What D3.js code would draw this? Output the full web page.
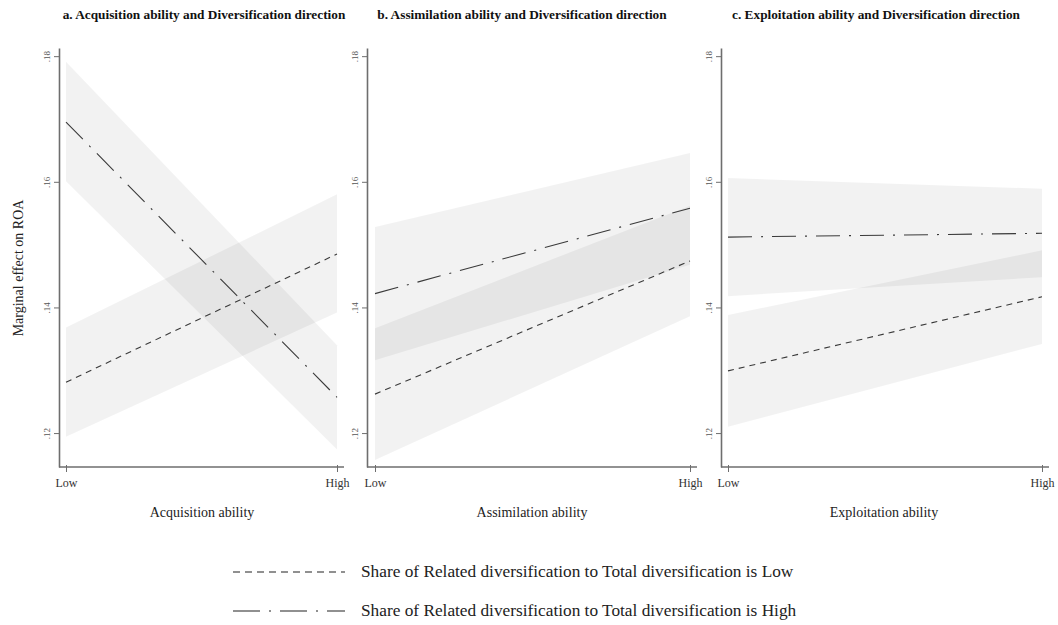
<!DOCTYPE html>
<html>
<head>
<meta charset="utf-8">
<script src="https://cdn.jsdelivr.net/npm/d3@7"></script>
<style>
  body { margin: 0; background: #fff; }
  svg { font-family: "Liberation Serif", "DejaVu Serif", serif; }
</style>
</head>
<body>
<svg id="chart" width="1058" height="625"></svg>
<script>
const levels = ["Low", "High"];
const yTicks = [0.12, 0.14, 0.16, 0.18];
const panelTitles = [
  "a. Acquisition ability and Diversification direction",
  "b. Assimilation ability and Diversification direction",
  "c. Exploitation ability and Diversification direction"
];
const xTitles = ["Acquisition ability", "Assimilation ability", "Exploitation ability"];
const seriesNames = [
  "Share of Related diversification to Total diversification is Low",
  "Share of Related diversification to Total diversification is High"
];

// predicted values at [Low, High] for each panel
const lowFit   = [[0.1281, 0.1485], [0.1262, 0.1474], [0.1299, 0.1417]];
const lowUpper = [[0.1368, 0.1580], [0.1367, 0.1562], [0.1388, 0.1491]];
const lowLower = [[0.1194, 0.1392], [0.1157, 0.1386], [0.1210, 0.1342]];
const highFit   = [[0.1695, 0.1257], [0.1422, 0.1558], [0.1512, 0.1518]];
const highUpper = [[0.1791, 0.1340], [0.1528, 0.1646], [0.1606, 0.1589]];
const highLower = [[0.1601, 0.1174], [0.1316, 0.1468], [0.1418, 0.1448]];

const svg = d3.select("#chart");

// pixel layout of each panel: y axis line, Low tick, High tick, end of x axis
const layout = [
  { axisX: 59, x0: 66, x1: 337, xEnd: 344, titleX: 204, xTitleX: 202 },
  { axisX: 367, x0: 375, x1: 690, xEnd: 697, titleX: 522, xTitleX: 532 },
  { axisX: 721, x0: 728, x1: 1042, xEnd: 1049, titleX: 876, xTitleX: 884 }
];
const yTop = 48, yBottom = 467;

const yScale = d3.scaleLinear().domain([0.1146, 0.1813]).range([yBottom, yTop]);

const dashLow = "6,5";
const dashHigh = "24,9,2,9";
const lineColor = "#3a3a3a";
const axisColor = "#6e6e6e";

layout.forEach((p, i) => {
  const g = svg.append("g");
  const xScale = d3.scaleLinear().domain([0, 1]).range([p.x0, p.x1]);

  const band = d3.area()
    .x((d, k) => xScale(k))
    .y0(d => yScale(d[0]))
    .y1(d => yScale(d[1]));

  const bands = [
    d3.zip(lowLower[i], lowUpper[i]),
    d3.zip(highLower[i], highUpper[i])
  ];
  g.selectAll(".band")
    .data(bands)
    .enter()
    .append("path")
    .attr("class", "band")
    .attr("d", band)
    .attr("fill", "#000")
    .attr("fill-opacity", 0.05);

  const line = d3.line()
    .x((d, k) => xScale(k))
    .y(d => yScale(d));

  g.append("path")
    .attr("d", line(lowFit[i]))
    .attr("fill", "none")
    .attr("stroke", lineColor)
    .attr("stroke-width", 1.1)
    .attr("stroke-dasharray", dashLow);

  g.append("path")
    .attr("d", line(highFit[i]))
    .attr("fill", "none")
    .attr("stroke", lineColor)
    .attr("stroke-width", 1.1)
    .attr("stroke-dasharray", dashHigh);

  // y axis
  const yAxis = d3.axisLeft(yScale)
    .tickValues(yTicks)
    .tickSize(5)
    .tickSizeOuter(0)
    .tickFormat(d => d3.format(".2f")(d).replace(/^0/, ""));

  const ya = g.append("g")
    .attr("transform", `translate(${p.axisX},0)`)
    .call(yAxis);
  ya.select(".domain").attr("stroke", axisColor).attr("stroke-width", 1.6);
  ya.selectAll(".tick line").attr("stroke", axisColor);
  ya.selectAll(".tick text")
    .attr("x", 0)
    .attr("dy", 0)
    .attr("transform", "translate(-9,0) rotate(-90)")
    .attr("text-anchor", "middle")
    .attr("fill", "#555")
    .style("font-size", "9px")
    .style("font-family", "Liberation Serif");

  // x axis
  const xAxis = d3.axisBottom(xScale)
    .tickValues([0, 1])
    .tickSize(5)
    .tickSizeOuter(0)
    .tickFormat((d, k) => levels[k]);

  const xa = g.append("g")
    .attr("transform", `translate(0,${yBottom})`)
    .call(xAxis);
  xa.select(".domain").remove();
  xa.append("line")
    .attr("x1", p.axisX)
    .attr("x2", p.xEnd)
    .attr("stroke", axisColor)
    .attr("stroke-width", 1.6);
  xa.selectAll(".tick line").attr("stroke", axisColor).attr("y1", -2);
  xa.selectAll(".tick text")
    .attr("y", 11)
    .attr("fill", "#333")
    .style("font-size", "12px")
    .style("font-family", "Liberation Serif");

  svg.append("text")
    .attr("x", p.titleX)
    .attr("y", 19)
    .attr("text-anchor", "middle")
    .attr("font-weight", "bold")
    .attr("font-size", 13.3)
    .attr("fill", "#111")
    .text(panelTitles[i]);

  svg.append("text")
    .attr("x", p.xTitleX)
    .attr("y", 517)
    .attr("text-anchor", "middle")
    .attr("font-size", 14)
    .attr("fill", "#222")
    .text(xTitles[i]);
});

svg.append("text")
  .attr("transform", "translate(23,268) rotate(-90)")
  .attr("text-anchor", "middle")
  .attr("font-size", 14)
  .attr("fill", "#222")
  .text("Marginal effect on ROA");

// legend
const legend = svg.append("g");
const legendRows = [
  { y: 572, dash: "7,5", name: seriesNames[0] },
  { y: 611, dash: "27,9,2,9", name: seriesNames[1] }
];
legendRows.forEach(r => {
  legend.append("line")
    .attr("x1", 233)
    .attr("x2", 345)
    .attr("y1", r.y)
    .attr("y2", r.y)
    .attr("stroke", "#222")
    .attr("stroke-width", 1.2)
    .attr("stroke-dasharray", r.dash);
  legend.append("text")
    .attr("x", 361)
    .attr("y", r.y + 5)
    .attr("font-size", 17.3)
    .attr("fill", "#222")
    .text(r.name);
});
</script>
</body>
</html>
